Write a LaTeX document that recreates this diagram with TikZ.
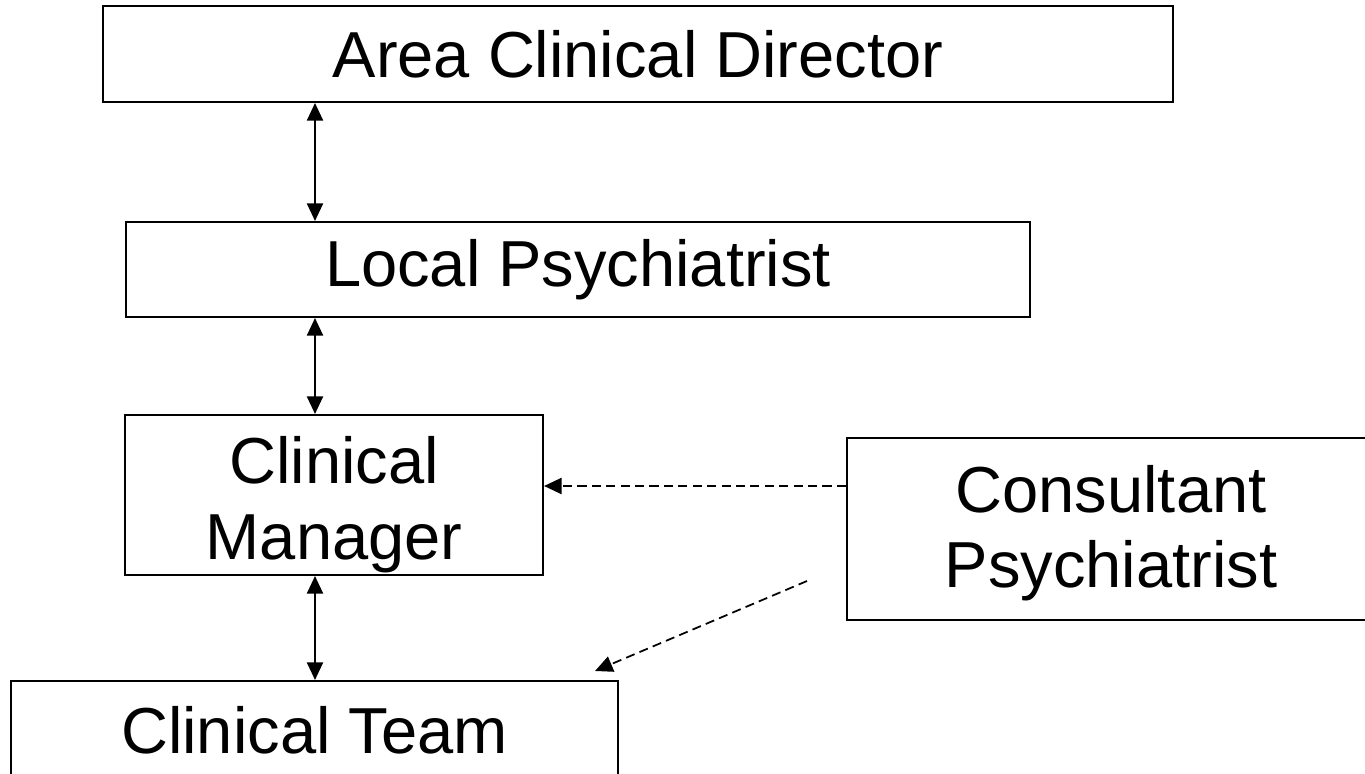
\documentclass[tikz,border=0pt]{standalone}
\usepackage{fontspec}
\setmainfont{Liberation Sans}
\usetikzlibrary{arrows.meta}
\newcommand{\toppad}[1]{\rule{0pt}{#1}}
\tikzset{
  rolebox/.style={draw, line width=0.6pt, inner sep=0pt, align=center,
    font=\fontsize{18.5}{21.4}\selectfont},
  twoway/.style={line width=0.45pt, {Triangle[length=5pt,width=4.6pt]}-{Triangle[length=5pt,width=4.6pt]}},
  advice/.style={line width=0.5pt, dash pattern=on 2.6pt off 1.5pt, -{Triangle[length=5pt,width=4.6pt]}}
}
\begin{document}
\begin{tikzpicture}
        \clip (0,0) rectangle (13.65,-7.74);
        \fill[white] (0,0) rectangle (13.65,-7.74);
        % boxes
        \node[rolebox, minimum width=10.70cm, minimum height=0.96cm] (acd) at (6.38,-0.54) {Area Clinical Director};
        \node[rolebox, minimum width=9.04cm, minimum height=0.95cm] (lp) at (5.78,-2.695) {Local Psychiatrist};
        \node[rolebox, minimum width=4.18cm, minimum height=1.60cm] (cm) at (3.34,-4.95) {\toppad{18.9pt}Clinical\\Manager};
        \node[rolebox, minimum width=5.28cm, minimum height=1.82cm] (cp) at (11.11,-5.29) {\toppad{15.8pt}Consultant\\Psychiatrist};
        \node[rolebox, minimum width=6.07cm, minimum height=0.98cm] (ct) at (3.145,-7.30) {Clinical Team};
        % links
        \coordinate (lx) at (3.15,0);
        \coordinate (dy) at (0,-4.86);
        \coordinate (dstart) at (8.07,-5.81);
        \coordinate (dend) at (5.95,-6.71);
        \draw[twoway] (acd.south -| lx) -- (lp.north -| lx);
        \draw[twoway] (lp.south -| lx) -- (cm.north -| lx);
        \draw[twoway] (cm.south -| lx) -- (ct.north -| lx);
        \draw[advice] (cp.west |- dy) -- (cm.east |- dy);
        \draw[advice] (dstart) -- (dend);
    \end{tikzpicture}
\end{document}
